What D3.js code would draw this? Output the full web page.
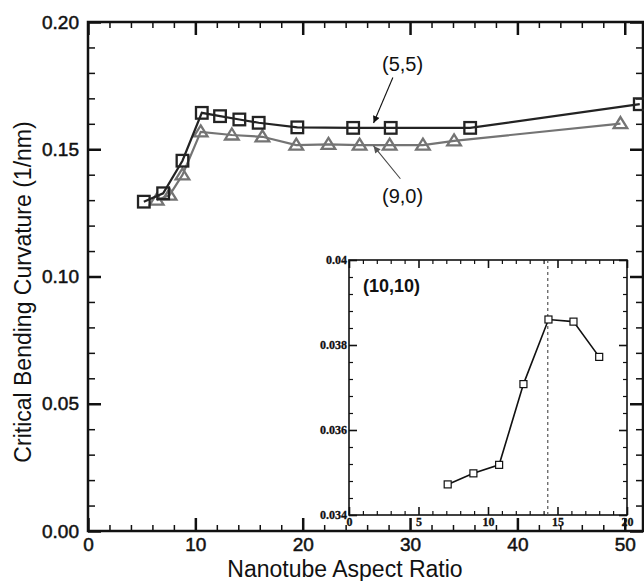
<!DOCTYPE html>
<html>
<head>
<meta charset="utf-8">
<script src="https://cdn.jsdelivr.net/npm/d3@7"></script>
<style>
  body { margin: 0; background: #fff; }
  svg { display: block; font-family: "Liberation Sans", Arial, sans-serif; }
  .axis path { display: none; }
  .axis line { stroke: #111; }
</style>
</head>
<body>
<svg width="644" height="581"></svg>
<script>
// (5,5) tube, squares
const ratio55 = [5.2, 7.0, 8.8, 10.6, 12.3, 14.1, 15.9, 19.5, 24.7, 28.2, 35.6, 51.4];
const curv55 = [0.1294, 0.1327, 0.1455, 0.1643, 0.1630, 0.1617, 0.1604, 0.1586, 0.1584, 0.1584, 0.1584, 0.1677];

// (9,0) tube, triangles
const ratio90 = [6.4, 7.6, 8.8, 10.5, 13.4, 16.25, 19.4, 22.4, 25.3, 28.1, 31.2, 34.1, 49.6];
const curv90 = [0.1300, 0.1320, 0.1399, 0.1568, 0.1556, 0.1549, 0.1516, 0.1519, 0.1516, 0.1516, 0.1516, 0.1533, 0.1601];

// (10,10) tube, inset
const ratio1010 = [7.1, 8.95, 10.8, 12.55, 14.35, 16.15, 18.0];
const curv1010 = [0.03472, 0.03498, 0.03518, 0.03708, 0.03860, 0.03855, 0.03772];
const insetMark = 14.3;

const xTicks = [0, 10, 20, 30, 40, 50];
const yTicks = [0.00, 0.05, 0.10, 0.15, 0.20];
const ixTicks = [0, 5, 10, 15, 20];
const iyTicks = [0.034, 0.036, 0.038, 0.04];

const svg = d3.select("svg");

const x = d3.scaleLinear().domain([0, 51.7]).range([88, 643]);
const y = d3.scaleLinear().domain([0, 0.2]).range([531, 22]);

const s55 = ratio55.map((r, i) => ({ r: r, c: curv55[i] }));
const s90 = ratio90.map((r, i) => ({ r: r, c: curv90[i] }));
const s1010 = ratio1010.map((r, i) => ({ r: r, c: curv1010[i] }));

function drawAxis(g, axis, width) {
  g.attr("class", "axis").call(axis);
  g.selectAll("line").attr("stroke-width", width);
  return g;
}

// scanned-looking text: a thin outline thickens the glyphs a bit
function heavy(sel, w) {
  return sel.attr("stroke", "#111").attr("stroke-width", w).attr("paint-order", "stroke");
}

// minor ticks
const xMinor = d3.range(0, 52, 2).filter(v => v % 10 !== 0);
const yMinor = d3.range(0, 0.2001, 0.01).filter(v => Math.round(v * 100) % 5 !== 0);

drawAxis(svg.append("g").attr("transform", `translate(0,${y(0)})`),
  d3.axisBottom(x).tickValues(xMinor).tickSize(-6).tickFormat(""), 1.5);
drawAxis(svg.append("g").attr("transform", `translate(0,${y(0.2)})`),
  d3.axisTop(x).tickValues(xMinor).tickSize(-6).tickFormat(""), 1.5);
drawAxis(svg.append("g").attr("transform", `translate(${x(0)},0)`),
  d3.axisLeft(y).tickValues(yMinor).tickSize(-7).tickFormat(""), 1.5);
drawAxis(svg.append("g").attr("transform", `translate(${x.range()[1]},0)`),
  d3.axisRight(y).tickValues(yMinor).tickSize(-7).tickFormat(""), 1.5);

// major ticks
const xb = drawAxis(svg.append("g").attr("transform", `translate(0,${y(0)})`),
  d3.axisBottom(x).tickValues(xTicks).tickSize(-13).tickPadding(7).tickFormat(d3.format("d")), 2.5);
heavy(xb.selectAll("text").attr("font-size", 19).attr("fill", "#111").attr("font-family", "Liberation Sans, Arial"), 0.5);
drawAxis(svg.append("g").attr("transform", `translate(0,${y(0.2)})`),
  d3.axisTop(x).tickValues(xTicks).tickSize(-13).tickFormat(""), 2.5);
const yl = drawAxis(svg.append("g").attr("transform", `translate(${x(0)},0)`),
  d3.axisLeft(y).tickValues(yTicks).tickSize(-13).tickPadding(9).tickFormat(d3.format(".2f")), 2.5);
heavy(yl.selectAll("text").attr("font-size", 19).attr("fill", "#111").attr("font-family", "Liberation Sans, Arial"), 0.5);
drawAxis(svg.append("g").attr("transform", `translate(${x.range()[1]},0)`),
  d3.axisRight(y).tickValues(yTicks).tickSize(-13).tickFormat(""), 2.5);

// frame
svg.append("rect")
  .attr("x", x(0)).attr("y", y(0.2))
  .attr("width", x.range()[1] - x(0)).attr("height", y(0) - y(0.2))
  .attr("fill", "none").attr("stroke", "#111").attr("stroke-width", 2.5);

// axis titles
svg.append("text")
  .attr("x", 345).attr("y", 577)
  .attr("text-anchor", "middle")
  .attr("font-size", 23)
  .attr("fill", "#111")
  .text("Nanotube Aspect Ratio");

svg.append("text")
  .attr("transform", "translate(31,292) rotate(-90)")
  .attr("text-anchor", "middle")
  .attr("font-size", 23)
  .attr("fill", "#111")
  .text("Critical Bending Curvature (1/nm)");

// series
const line = d3.line().x(d => x(d.r)).y(d => y(d.c));
const grey = "#747474";
const dark = "#232323";

svg.append("path").datum(s90)
  .attr("fill", "none").attr("stroke", grey).attr("stroke-width", 2.2).attr("d", line);
svg.selectAll(".tri").data(s90).enter().append("path")
  .attr("class", "tri")
  .attr("transform", d => `translate(${x(d.r)},${y(d.c)})`)
  .attr("d", "M0,-6.5L6.8,4.5L-6.8,4.5Z")
  .attr("fill", "none").attr("stroke", grey).attr("stroke-width", 2.3);

svg.append("path").datum(s55)
  .attr("fill", "none").attr("stroke", dark).attr("stroke-width", 2.2).attr("d", line);
svg.selectAll(".sq").data(s55).enter().append("rect")
  .attr("class", "sq")
  .attr("x", d => x(d.r) - 5.8).attr("y", d => y(d.c) - 5.8)
  .attr("width", 11.6).attr("height", 11.6)
  .attr("fill", "none").attr("stroke", dark).attr("stroke-width", 2.3);

// annotations
const defs = svg.append("defs");
[["ah-dark", "#111"], ["ah-grey", "#555"]].forEach(([id, col]) => {
  defs.append("marker")
    .attr("id", id)
    .attr("viewBox", "0 0 10 10")
    .attr("refX", 10).attr("refY", 5)
    .attr("markerWidth", 9).attr("markerHeight", 7)
    .attr("markerUnits", "userSpaceOnUse")
    .attr("orient", "auto")
    .append("path").attr("d", "M0,0L10,5L0,10Z").attr("fill", col);
});

svg.append("line")
  .attr("x1", x(28.4)).attr("y1", y(0.1782))
  .attr("x2", x(26.6)).attr("y2", y(0.1603))
  .attr("stroke", "#111").attr("stroke-width", 1.1)
  .attr("marker-end", "url(#ah-dark)");
svg.append("text")
  .attr("x", x(29.3)).attr("y", y(0.1808))
  .attr("text-anchor", "middle").attr("font-size", 20).attr("fill", "#111")
  .text("(5,5)");

svg.append("line")
  .attr("x1", x(29.1)).attr("y1", y(0.1384))
  .attr("x2", x(26.6)).attr("y2", y(0.1513))
  .attr("stroke", "#444").attr("stroke-width", 1.1)
  .attr("marker-end", "url(#ah-grey)");
svg.append("text")
  .attr("x", x(29.3)).attr("y", y(0.1287))
  .attr("text-anchor", "middle").attr("font-size", 20).attr("fill", "#111")
  .text("(9,0)");

// inset
const ix = d3.scaleLinear().domain([0, 20]).range([349, 627]);
const iy = d3.scaleLinear().domain([0.034, 0.04]).range([515, 260]);
const inset = svg.append("g");

inset.append("rect")
  .attr("x", ix(0)).attr("y", iy(0.04))
  .attr("width", ix(20) - ix(0)).attr("height", iy(0.034) - iy(0.04))
  .attr("fill", "#fff");

const ixMinor = d3.range(0, 21, 1).filter(v => v % 5 !== 0);
const iyMinor = d3.range(0, 15).map(i => 0.034 + i * 0.0004).filter((v, i) => i % 5 !== 0);

drawAxis(inset.append("g").attr("transform", `translate(0,${iy(0.034)})`),
  d3.axisBottom(ix).tickValues(ixMinor).tickSize(-4).tickFormat(""), 1.2);
drawAxis(inset.append("g").attr("transform", `translate(0,${iy(0.04)})`),
  d3.axisTop(ix).tickValues(ixMinor).tickSize(-4).tickFormat(""), 1.2);
drawAxis(inset.append("g").attr("transform", `translate(${ix(0)},0)`),
  d3.axisLeft(iy).tickValues(iyMinor).tickSize(-4).tickFormat(""), 1.2);
drawAxis(inset.append("g").attr("transform", `translate(${ix(20)},0)`),
  d3.axisRight(iy).tickValues(iyMinor).tickSize(-4).tickFormat(""), 1.2);

const ixb = drawAxis(inset.append("g").attr("transform", `translate(0,${iy(0.034)})`),
  d3.axisBottom(ix).tickValues(ixTicks).tickSize(-8).tickPadding(2).tickFormat(d3.format("d")), 1.6);
heavy(ixb.selectAll("text")
  .attr("font-size", 12).attr("font-weight", "bold").attr("fill", "#111")
  .attr("font-family", "Liberation Serif, Times New Roman, serif"), 0.3);
drawAxis(inset.append("g").attr("transform", `translate(0,${iy(0.04)})`),
  d3.axisTop(ix).tickValues(ixTicks).tickSize(-8).tickFormat(""), 1.6);
const iyl = drawAxis(inset.append("g").attr("transform", `translate(${ix(0)},0)`),
  d3.axisLeft(iy).tickValues(iyTicks).tickSize(-8).tickPadding(2).tickFormat(d => d === 0.04 ? "0.04" : d3.format(".3f")(d)), 1.6);
heavy(iyl.selectAll("text")
  .attr("font-size", 12).attr("font-weight", "bold").attr("fill", "#111")
  .attr("font-family", "Liberation Serif, Times New Roman, serif"), 0.3);
drawAxis(inset.append("g").attr("transform", `translate(${ix(20)},0)`),
  d3.axisRight(iy).tickValues(iyTicks).tickSize(-8).tickFormat(""), 1.6);

inset.append("rect")
  .attr("x", ix(0)).attr("y", iy(0.04))
  .attr("width", ix(20) - ix(0)).attr("height", iy(0.034) - iy(0.04))
  .attr("fill", "none").attr("stroke", "#111").attr("stroke-width", 1.6);

inset.append("line")
  .attr("x1", ix(insetMark)).attr("x2", ix(insetMark))
  .attr("y1", iy(0.034)).attr("y2", iy(0.04))
  .attr("stroke", "#555").attr("stroke-width", 1.2).attr("stroke-dasharray", "3,3");

const iline = d3.line().x(d => ix(d.r)).y(d => iy(d.c));
inset.append("path").datum(s1010)
  .attr("fill", "none").attr("stroke", "#111").attr("stroke-width", 1.6).attr("d", iline);
inset.selectAll(".isq").data(s1010).enter().append("rect")
  .attr("class", "isq")
  .attr("x", d => ix(d.r) - 3.5).attr("y", d => iy(d.c) - 3.5)
  .attr("width", 7).attr("height", 7)
  .attr("fill", "#fff").attr("stroke", "#111").attr("stroke-width", 1.2);

inset.append("text")
  .attr("x", 363).attr("y", 292)
  .attr("font-size", 18).attr("font-weight", "bold").attr("fill", "#111")
  .text("(10,10)");
</script>
</body>
</html>
